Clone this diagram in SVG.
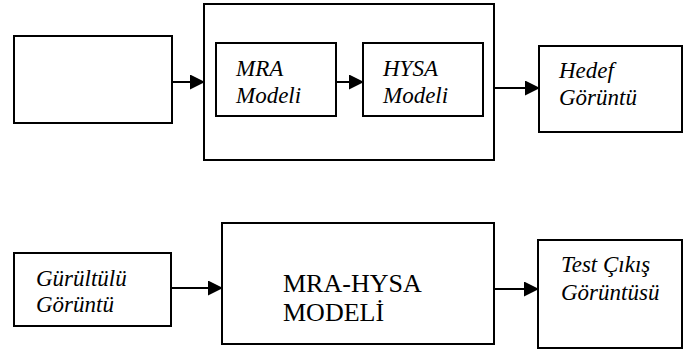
<svg xmlns="http://www.w3.org/2000/svg" width="691" height="352" viewBox="0 0 691 352">
  <style>
    .box { fill: #fff; stroke: #000; stroke-width: 2; }
    .wire { stroke: #000; stroke-width: 2; fill: none; marker-end: url(#head); }
    .it { font-family: 'Liberation Serif', 'DejaVu Serif', serif; font-style: italic; font-size: 23px; fill: #000; }
    .up { font-family: 'Liberation Serif', 'DejaVu Serif', serif; font-size: 26px; fill: #000; }
  </style>
  <defs>
    <marker id="head" markerUnits="userSpaceOnUse" markerWidth="15" markerHeight="15" refX="14" refY="7.5" orient="auto">
      <path d="M0,0 L15,7.5 L0,15 z" fill="#000"/>
    </marker>
  </defs>
  <rect width="691" height="352" fill="#fff"/>

  <!-- upper chain: source, composite model, target -->
  <g id="source">
    <rect class="box" x="14" y="36" width="158" height="87"/>
  </g>
  <g id="model-group">
    <rect class="box" x="204" y="4" width="290" height="156"/>
  </g>
  <g id="mra">
    <rect class="box" x="216" y="43" width="120" height="73"/>
    <text class="it" x="236" y="76">MRA</text>
    <text class="it" x="236" y="103">Modeli</text>
  </g>
  <g id="hysa">
    <rect class="box" x="363" y="43" width="120" height="73"/>
    <text class="it" x="383" y="76">HYSA</text>
    <text class="it" x="383" y="103">Modeli</text>
  </g>
  <g id="target">
    <rect class="box" x="539" y="46" width="143" height="86"/>
    <text class="it" x="559" y="78">Hedef</text>
    <text class="it" x="559" y="105">Görüntü</text>
  </g>

  <!-- lower chain: noisy input, trained model, test output -->
  <g id="noisy">
    <rect class="box" x="14" y="253" width="157" height="73"/>
    <text class="it" x="36" y="286">Gürültülü</text>
    <text class="it" x="36" y="312">Görüntü</text>
  </g>
  <g id="mra-hysa">
    <rect class="box" x="222" y="223" width="272" height="121"/>
    <text class="up" x="283" y="292">MRA-HYSA</text>
    <text class="up" x="283" y="321">MODELİ</text>
  </g>
  <g id="test-output">
    <rect class="box" x="538" y="240" width="144" height="108"/>
    <text class="it" x="561" y="272">Test Çıkış</text>
    <text class="it" x="561" y="300">Görüntüsü</text>
  </g>

  <g id="connectors">
    <line class="wire" x1="172" y1="82" x2="204" y2="82"/>
    <line class="wire" x1="336" y1="82" x2="363" y2="82"/>
    <line class="wire" x1="494" y1="88" x2="539" y2="88"/>
    <line class="wire" x1="172" y1="288" x2="222" y2="288"/>
    <line class="wire" x1="494" y1="289" x2="538" y2="289"/>
  </g>
</svg>
